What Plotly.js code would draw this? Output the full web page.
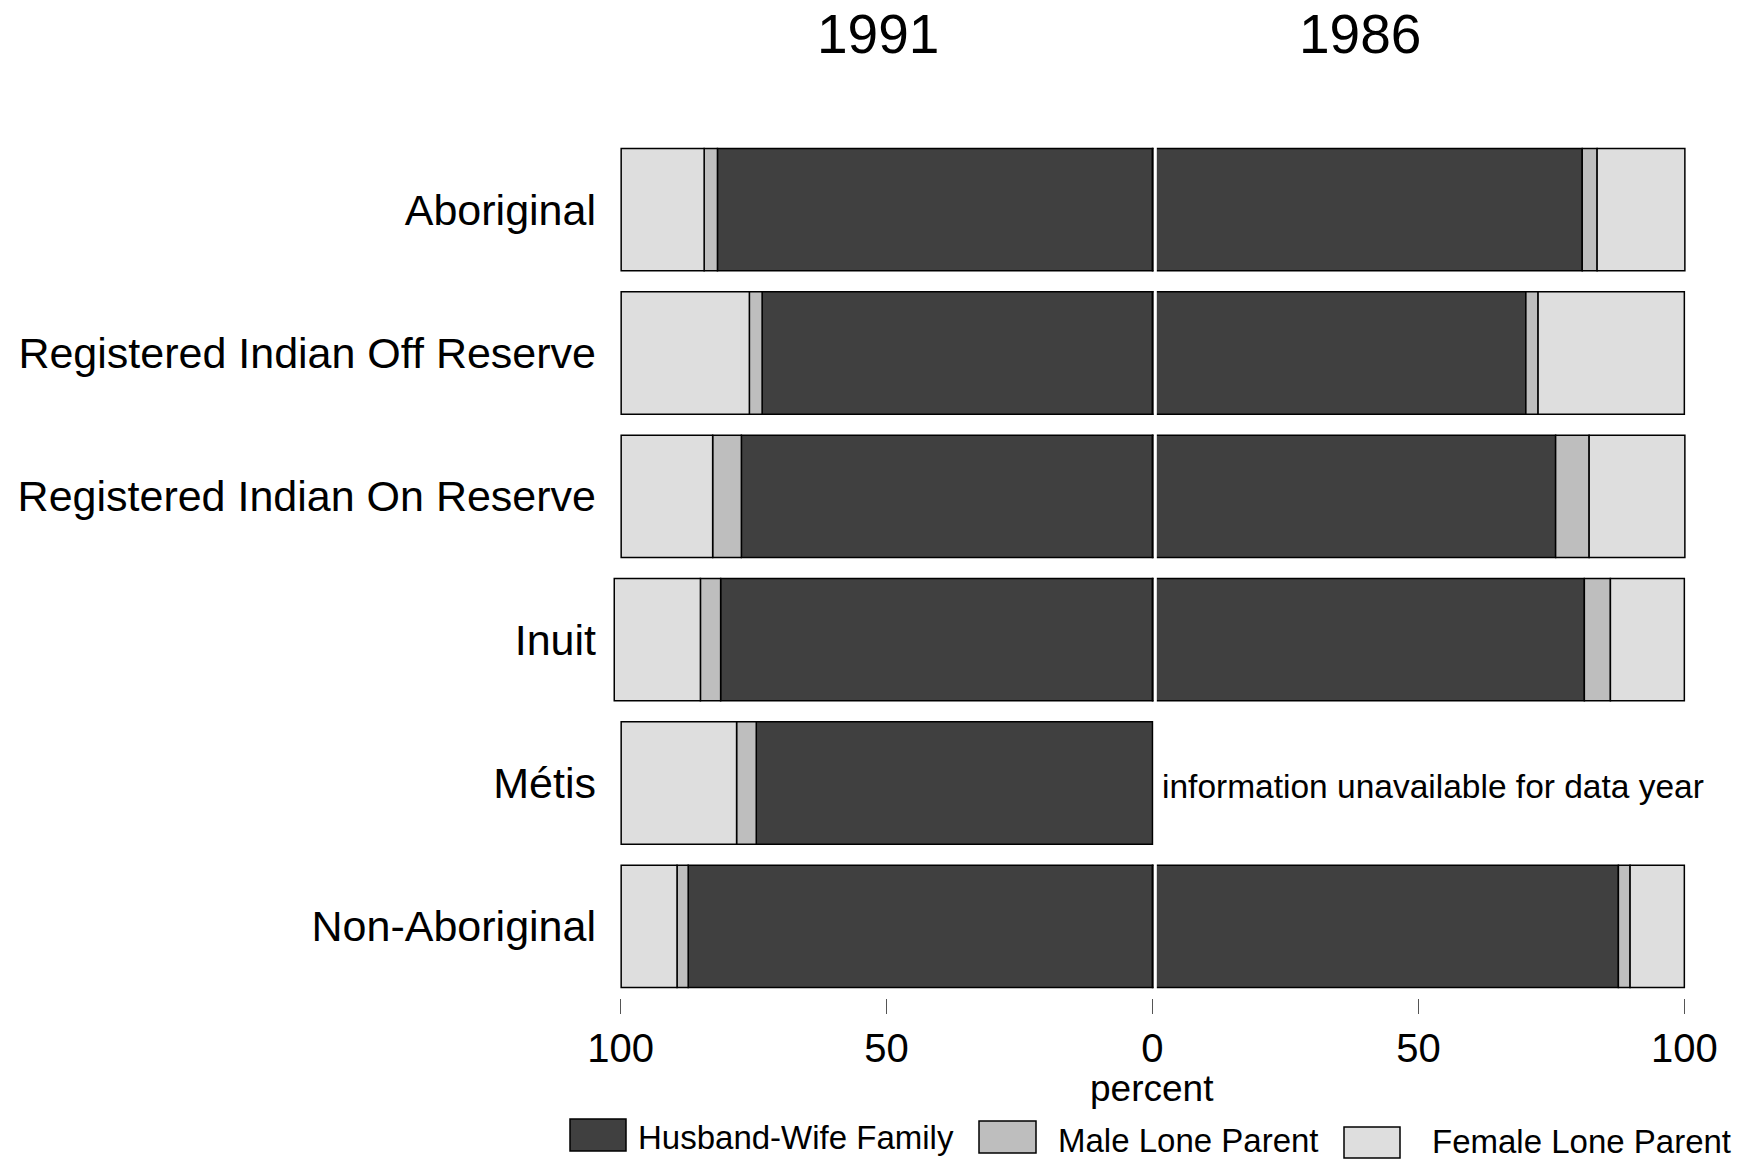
<!DOCTYPE html>
<html>
<head>
<meta charset="utf-8">
<script src="https://cdn.plot.ly/plotly-3.0.1.min.js"></script>
<style>html,body{margin:0;padding:0;background:#fff;}#chart{width:1749px;height:1160px;}</style>
</head>
<body>
<div id="chart"></div>
<script>
// ---- data ----
const categories = ["Aboriginal", "Registered Indian Off Reserve", "Registered Indian On Reserve", "Inuit", "Métis", "Non-Aboriginal"];
const seriesNames = ["Husband-Wife Family", "Male Lone Parent", "Female Lone Parent"];
const years = ["1991", "1986"];
const hw1991     = [81.8, 73.4, 77.3, 81.2, 74.5, 87.3];
const male1991   = [2.5, 2.4, 5.4, 3.8, 3.7, 2.1];
const female1991 = [15.6, 24.1, 17.2, 16.2, 21.7, 10.5];
const hw1986     = [80.8, 70.2, 75.8, 81.2, null, 87.6];
const male1986   = [2.8, 2.3, 6.3, 4.9, null, 2.2];
const female1986 = [16.5, 27.5, 18.0, 13.9, null, 10.2];
const tickVals = [-100, -50, 0, 50, 100];
const tickText = ["100", "50", "0", "50", "100"];
const axisTitle = "percent";
const unavailableNote = "information unavailable for data year";

// ---- styles ----
const colors = ["#404040", "#bebebe", "#dedede"];
const FONT = "'Liberation Sans', Arial, Helvetica, sans-serif";
const W = 1749, H = 1160;
const M = {l: 610, r: 62, t: 138, b: 162};
const PW = W - M.l - M.r, PH = H - M.t - M.b;
const pxX = px => (px - M.l) / PW;
const pxY = py => (H - M.b - py) / PH;

function neg(a) { return a.map(v => v == null ? null : -v); }

const left = [hw1991, male1991, female1991];
const right = [hw1986, male1986, female1986];
const traces = [];
left.forEach((vals, i) => {
  traces.push({
    type: "bar", orientation: "h", y: categories, x: neg(vals),
    customdata: vals, name: seriesNames[i], legendgroup: seriesNames[i],
    showlegend: false,
    marker: {color: colors[i], line: {color: "#000", width: 1.5}},
    hovertemplate: years[0] + " %{y}: %{customdata}%<extra>" + seriesNames[i] + "</extra>"
  });
});
right.forEach((vals, i) => {
  traces.push({
    type: "bar", orientation: "h", y: categories, x: vals,
    name: seriesNames[i], legendgroup: seriesNames[i], showlegend: false,
    marker: {color: colors[i], line: {color: "#000", width: 1.5}},
    hovertemplate: years[1] + " %{y}: %{x}%<extra>" + seriesNames[i] + "</extra>"
  });
});

// custom legend (large swatches)
const legendBoxes = [
  {x0: 570, x1: 626, y0: 1119, y1: 1151, tx: 636, ty: 1137},
  {x0: 979, x1: 1036, y0: 1121, y1: 1153, tx: 1056, ty: 1140},
  {x0: 1344, x1: 1400, y0: 1127, y1: 1158, tx: 1430, ty: 1141}
];
const shapes = [
  {type: "line", xref: "x", yref: "paper", x0: 0.53, x1: 0.53, y0: 0, y1: 1,
   line: {color: "#ffffff", width: 3}, layer: "above"}
];
const annotations = [
  {xref: "paper", yref: "paper", x: pxX(878), y: pxY(34), text: years[0], showarrow: false,
   xanchor: "center", yanchor: "middle", font: {family: FONT, size: 55, color: "#000"}},
  {xref: "paper", yref: "paper", x: pxX(1360), y: pxY(34), text: years[1], showarrow: false,
   xanchor: "center", yanchor: "middle", font: {family: FONT, size: 55, color: "#000"}},
  {xref: "x", yref: "y", x: 0, y: 4, xshift: 8, yshift: -3, text: unavailableNote, showarrow: false,
   xanchor: "left", yanchor: "middle", font: {family: FONT, size: 33.5, color: "#000"}},
  {xref: "x", yref: "paper", x: 0, y: pxY(1088), text: axisTitle, showarrow: false,
   xanchor: "center", yanchor: "middle", font: {family: FONT, size: 37, color: "#000"}}
];
legendBoxes.forEach((b, i) => {
  shapes.push({type: "rect", xref: "paper", yref: "paper",
    x0: pxX(b.x0), x1: pxX(b.x1), y0: pxY(b.y1), y1: pxY(b.y0),
    fillcolor: colors[i], line: {color: "#000", width: 1.5}});
  annotations.push({xref: "paper", yref: "paper", x: pxX(b.tx), y: pxY(b.ty),
    text: seriesNames[i], showarrow: false, xanchor: "left", yanchor: "middle",
    font: {family: FONT, size: 33, color: "#000"}});
});

const layout = {
  width: W, height: H,
  margin: M,
  paper_bgcolor: "#fff", plot_bgcolor: "#fff",
  font: {family: FONT, color: "#000"},
  barmode: "relative",
  bargap: 0.146,
  showlegend: false,
  xaxis: {
    range: [-102, 100.5], tickvals: tickVals, ticktext: tickText,
    ticks: "outside", ticklen: 15, tickwidth: 1.5, tickcolor: "#555",
    showgrid: false, zeroline: false, showline: false,
    tickfont: {family: FONT, size: 40, color: "#000"}
  },
  yaxis: {
    type: "category", autorange: "reversed",
    showgrid: false, zeroline: false, showline: false, ticks: "",
    ticklabelstandoff: 13,
    tickfont: {family: FONT, size: 43, color: "#000"}
  },
  shapes: shapes,
  annotations: annotations
};

Plotly.newPlot("chart", traces, layout, {displayModeBar: false, staticPlot: true});
</script>
</body>
</html>
